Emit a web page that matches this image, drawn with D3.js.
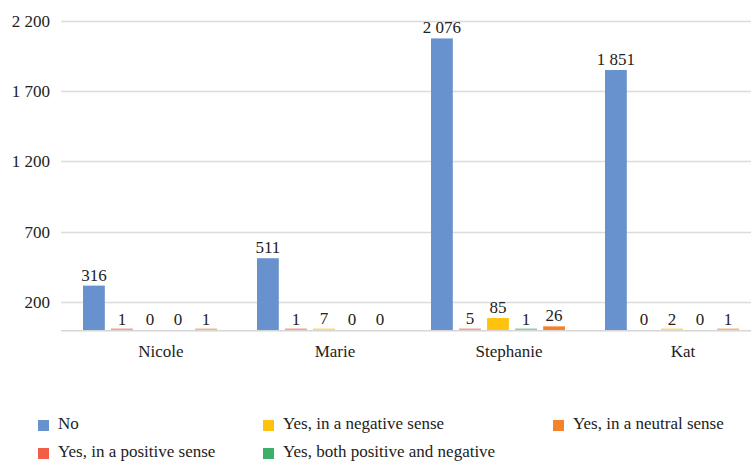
<!DOCTYPE html>
<html>
<head>
<meta charset="utf-8">
<script src="https://cdn.jsdelivr.net/npm/d3@7"></script>
<style>
  html, body { margin: 0; padding: 0; background: #fff; }
</style>
</head>
<body>
<svg id="chart" width="751" height="461"></svg>
<script>
// Respondents per person, split by answer
const categories = ["Nicole", "Marie", "Stephanie", "Kat"];
const seriesNames = [
  "No",
  "Yes, in a positive sense",
  "Yes, in a negative sense",
  "Yes, both positive and negative",
  "Yes, in a neutral sense"
];
const seriesColors = ["#6792CE", "#F25D45", "#FFC20E", "#3CB06A", "#F5822A"];
const valuesNo       = [316, 511, 2076, 1851];
const valuesPositive = [1, 1, 5, 0];
const valuesNegative = [0, 7, 85, 2];
const valuesBoth     = [0, 0, 1, 0];
const valuesNeutral  = [1, 0, 26, 1];
const yTicks = [200, 700, 1200, 1700, 2200];

// Legend rows as laid out under the plot
const legendRows = [
  ["No", "Yes, in a negative sense", "Yes, in a neutral sense"],
  ["Yes, in a positive sense", "Yes, both positive and negative"]
];

const seriesValues = [valuesNo, valuesPositive, valuesNegative, valuesBoth, valuesNeutral];

const FONT = "'Liberation Serif', 'Times New Roman', serif";
const svg = d3.select("#chart");
const fmt = d3.formatLocale({ decimal: ",", thousands: " ", grouping: [3], currency: ["", ""] }).format(",d");

const plotLeft = 61, plotRight = 751, baseY = 330;

const y = d3.scaleLinear().domain([0, 2200]).range([baseY, 21]);
const x0 = d3.scaleBand().domain(categories).range([74, 770]).paddingInner(0).paddingOuter(0);
// six slots per group, the last one left empty
const x1 = d3.scaleBand().domain(d3.range(6)).range([9, 9 + 6 * 27]).paddingInner(6 / 27).paddingOuter(0);

// gridlines
svg.append("g").selectAll("line").data(yTicks).join("line")
  .attr("x1", plotLeft).attr("x2", plotRight)
  .attr("y1", d => Math.round(y(d)) + 0.5).attr("y2", d => Math.round(y(d)) + 0.5)
  .attr("stroke", "#dcdcdc").attr("stroke-width", 1.5);

// tick labels
const yAxis = d3.axisLeft(y).tickValues(yTicks).tickSize(0).tickFormat(fmt);
const gAxis = svg.append("g").attr("transform", `translate(${plotLeft},0)`).call(yAxis)
  .attr("font-family", FONT).attr("font-size", 17);
gAxis.select(".domain").remove();
gAxis.selectAll("text").attr("x", -11).attr("fill", "#222");

// bars (tiny non-zero values still get a hairline so they stay visible)
const groups = svg.append("g").selectAll("g").data(categories).join("g")
  .attr("transform", d => `translate(${x0(d)},0)`);

groups.each(function(cat, ci) {
  const g = d3.select(this);
  seriesValues.forEach((vals, si) => {
    const v = vals[ci];
    const top = y(v);
    const h = v > 0 ? Math.max(1.5, baseY - top) : 0;
    g.append("rect")
      .attr("x", x1(si))
      .attr("width", x1.bandwidth())
      .attr("y", baseY - h)
      .attr("height", h)
      .attr("fill", seriesColors[si])
      .attr("fill-opacity", baseY - top < 1.5 ? 0.6 : 1);
    g.append("text")
      .attr("x", x1(si) + x1.bandwidth() / 2)
      .attr("y", top - 5)
      .attr("text-anchor", "middle")
      .attr("fill", "#222")
      .attr("font-family", FONT)
      .attr("font-size", 17)
      .text(fmt(v));
  });
});

// baseline
svg.append("line")
  .attr("x1", plotLeft).attr("x2", plotRight)
  .attr("y1", baseY + 0.75).attr("y2", baseY + 0.75)
  .attr("stroke", "#d6d6d6").attr("stroke-width", 1.5);

// category labels
svg.append("g").selectAll("text").data(categories).join("text")
  .attr("x", d => x0(d) + 9 + (6 * 27 - 6) / 2)
  .attr("y", 357)
  .attr("text-anchor", "middle")
  .attr("fill", "#222")
  .attr("font-family", FONT)
  .attr("font-size", 17)
  .text(d => d);

// legend
const legendX = [38, 263, 553];
const legendY = [425, 453];
legendRows.forEach((row, ri) => {
  row.forEach((name, ci) => {
    const si = seriesNames.indexOf(name);
    const g = svg.append("g").attr("transform", `translate(${legendX[ci]},${legendY[ri]})`);
    g.append("rect").attr("x", 0).attr("y", -5).attr("width", 11).attr("height", 11)
      .attr("fill", seriesColors[si]);
    g.append("text").attr("x", 20).attr("y", 0)
      .attr("dominant-baseline", "middle")
      .attr("fill", "#222")
      .attr("font-family", FONT)
      .attr("font-size", 17)
      .text(name);
  });
});
</script>
</body>
</html>
